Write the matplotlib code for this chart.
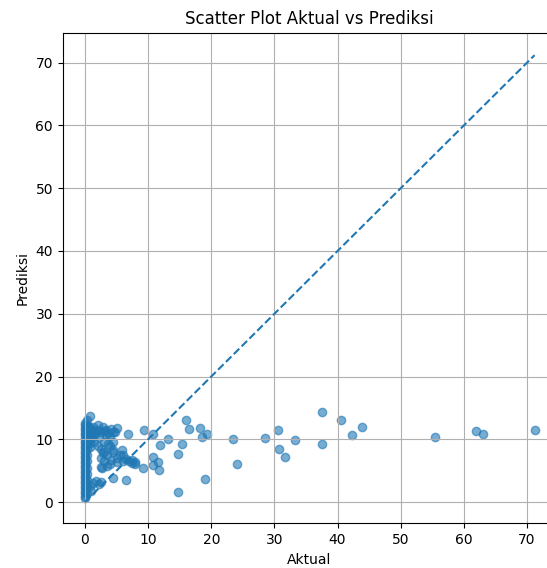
import numpy as np
import matplotlib
matplotlib.use("Agg")
import matplotlib.pyplot as plt

# nilai aktual = 0 (kolom padat di kiri)
col0_y = [0.6, 1.0, 1.4, 1.8, 2.2, 2.6, 3.0, 3.4, 3.8, 4.2, 4.6, 5.0, 5.4, 5.8,
          6.2, 6.6, 7.0, 7.4, 7.8, 8.2, 8.6, 9.0, 9.4, 9.8, 10.2, 10.6, 11.0,
          11.4, 11.8, 12.2, 12.6]
col1_y = [1.5, 2.5, 3.5, 4.5, 5.5, 6.5, 7.5, 8.5, 9.2, 9.8, 10.4, 11.0, 11.6,
          12.2, 13.0]
col2_y = [8.8, 9.4, 10.0, 10.6, 11.2, 11.8, 13.7]

# titik-titik lain (aktual, prediksi)
aktual = [0.6, 0.9, 1.2, 1.5, 1.7, 1.1, 1.4, 1.6, 2.0, 2.3, 2.6, 3.0, 3.3, 3.7,
          4.0, 4.4, 2.1, 2.8, 3.4, 4.1, 4.8, 5.0, 6.8, 9.4,
          2.0, 2.5, 3.0, 3.5, 3.0, 4.0, 4.5, 5.0, 5.5, 6.0, 6.5, 7.0, 7.5, 8.0,
          3.0, 3.5, 2.7, 4.0, 5.0, 2.5, 4.5, 3.7, 5.8, 6.1, 4.5, 4.2, 2.9, 2.6,
          7.4, 7.9,
          0.8, 1.3, 1.8, 2.3, 2.5, 1.0, 4.4, 6.5,
          10.8, 11.9, 13.2, 15.3, 16.0, 16.5, 18.2, 18.6, 19.4, 14.8, 10.8,
          11.6, 9.2, 10.8, 11.8, 14.8, 19.0,
          23.4, 24.1, 28.5, 30.5, 30.7, 31.7, 33.2, 37.6, 37.6, 40.6, 42.3,
          43.8, 55.4, 61.9, 63.0, 71.2]
prediksi = [12.0, 11.4, 11.9, 10.8, 11.3, 10.2, 9.6, 10.9, 11.5, 10.4, 11.1,
            11.3, 10.6, 11.0, 10.5, 11.2, 12.2, 12.0, 11.4, 11.6, 11.1, 11.8,
            10.9, 11.5,
            9.0, 8.5, 8.0, 7.5, 9.5, 9.0, 8.0, 7.0, 7.5, 6.5, 6.8, 6.5, 6.2, 6.0,
            6.5, 5.8, 5.5, 6.0, 6.3, 7.0, 9.5, 9.3, 8.3, 7.5, 8.3, 6.7, 7.8,
            5.6, 6.7, 6.4,
            2.5, 3.1, 3.3, 2.9, 3.2, 1.8, 3.8, 3.5,
            10.9, 9.1, 10.0, 9.3, 13.1, 11.7, 11.8, 10.3, 10.8, 7.6, 7.2,
            6.4, 5.4, 5.9, 5.1, 1.6, 3.7,
            10.0, 6.0, 10.2, 11.4, 8.4, 7.2, 9.9, 14.3, 9.2, 13.1, 10.7,
            11.9, 10.4, 11.3, 10.9, 11.4]

x = np.array([0.0] * len(col0_y) + [0.3] * len(col1_y) + [0.8] * len(col2_y) + aktual)
y = np.array(col0_y + col1_y + col2_y + prediksi)

fig = plt.figure(figsize=(5.47, 5.68), dpi=100)
ax = fig.add_axes([0.1146, 0.0787, 0.9019, 0.8637])
ax.scatter(x, y, alpha=0.6)
ax.plot([x.min(), x.max()], [x.min(), x.max()], '--')
ax.set_xlim(-3.53, 74.6)
ax.set_ylim(-3.39, 74.78)
ax.set_xlabel('Aktual')
ax.set_ylabel('Prediksi')
ax.set_title('Scatter Plot Aktual vs Prediksi')
ax.grid(True)

fig.savefig('out.png', dpi=100)
